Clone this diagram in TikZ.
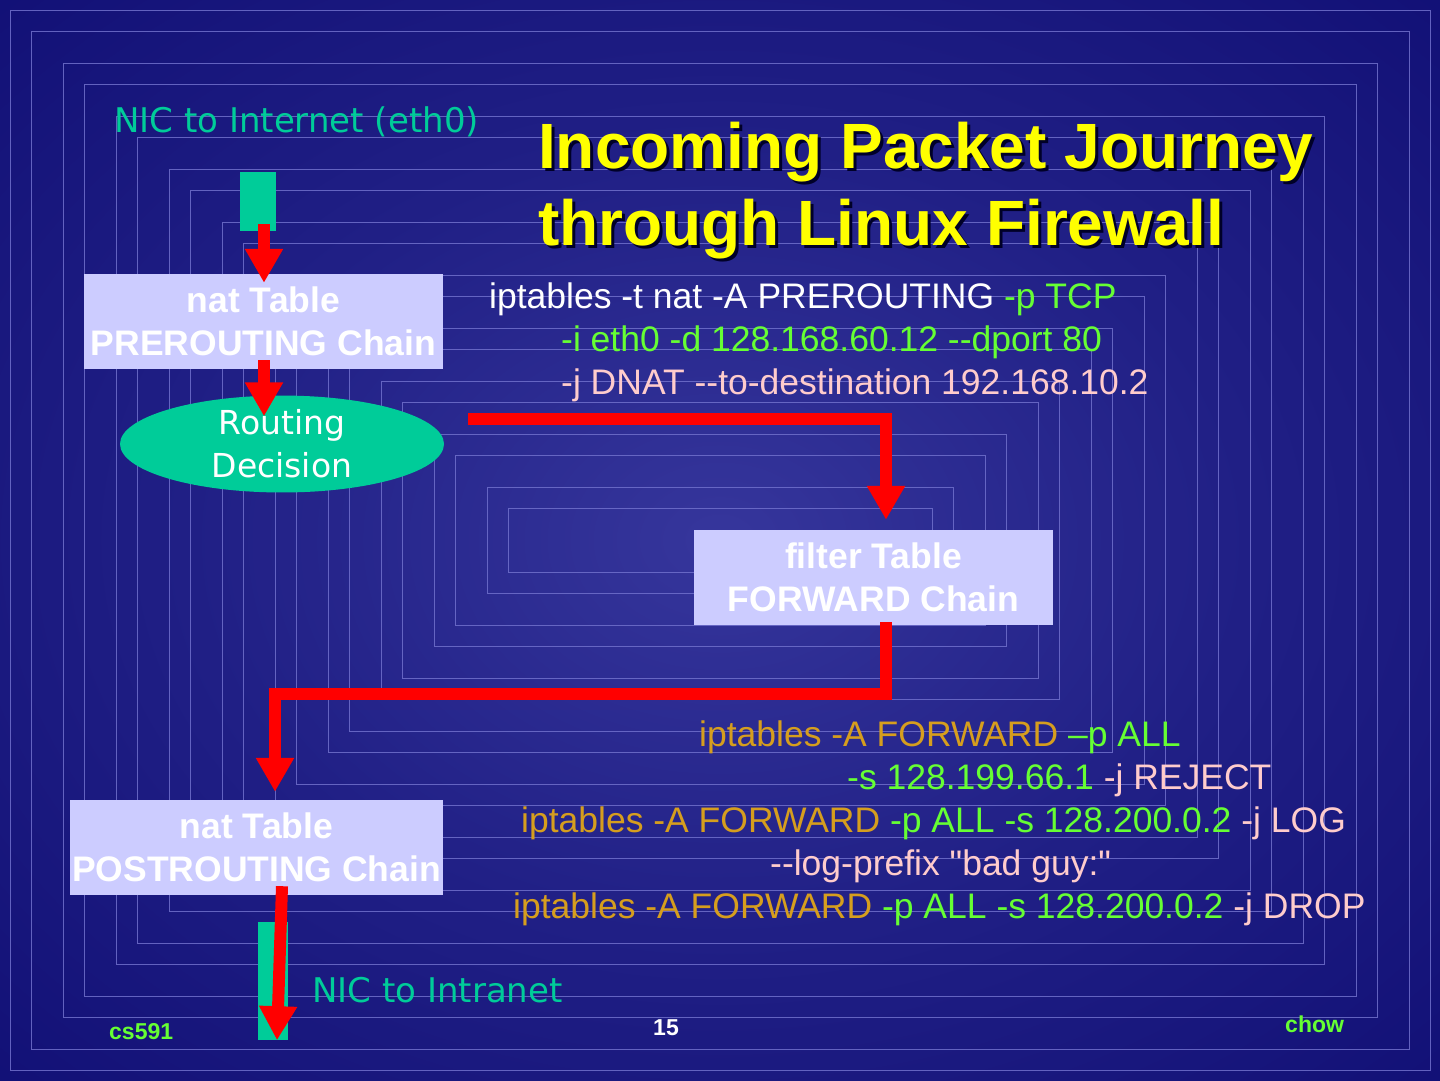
\documentclass[tikz,border=0pt]{standalone}
\usepackage{fontspec}
\setmainfont{Liberation Sans}[Ligatures=TeXOff]
\newfontfamily\nicfont{DejaVu Sans}
\usetikzlibrary{calc}
\usetikzlibrary{arrows.meta}
\usetikzlibrary{shapes.geometric}

\definecolor{bgout}{RGB}{6,4,106}
\definecolor{bgin}{RGB}{54,54,156}
\colorlet{bgmid}{bgin!55!bgout}
\definecolor{frameline}{RGB}{112,112,204}
\definecolor{nicteal}{RGB}{0,204,153}
\definecolor{boxlav}{RGB}{204,204,255}
\definecolor{arrowred}{RGB}{255,0,0}
\definecolor{cmdgreen}{RGB}{102,255,51}
\definecolor{cmdgold}{RGB}{214,158,30}
\definecolor{cmdpink}{RGB}{255,204,204}
\definecolor{titleyel}{RGB}{255,255,0}
\definecolor{titleshd}{RGB}{0,0,40}

\pgfdeclareradialshading{slidebg}{\pgfpoint{0bp}{0bp}}{color(0bp)=(bgin); color(18bp)=(bgmid); color(50bp)=(bgout); color(100bp)=(bgout)}

\begin{document}
\begin{tikzpicture}[x=1pt,y=-1pt,
    every node/.style={inner sep=0pt},
    cmd/.style={anchor=base west, font=\fontsize{35.5}{43}\selectfont},
    chainbox/.style={fill=boxlav, text=white, align=center, minimum height=95pt,
        font=\bfseries\fontsize{35.5}{43}\selectfont},
    decision/.style={ellipse, fill=nicteal, text=white, align=center,
        minimum width=324pt, minimum height=94pt, font=\nicfont\fontsize{33}{43}\selectfont},
    niclabel/.style={anchor=base west, text=nicteal, font=\nicfont\fontsize{34}{40}\selectfont},
    titleline/.style={anchor=base west, font=\bfseries\fontsize{64}{77}\selectfont},
    footer/.style={font=\bfseries\fontsize{23}{26}\selectfont},
    flowarrow/.style={draw=arrowred, line width=12pt, line join=miter,
        -{Triangle[width=36pt,length=34pt]}}]

    \useasboundingbox (0,0) rectangle (1440,1080);
    \shade[shading=slidebg] (0,0) rectangle (1440,1080);
    \foreach \d in {10,31,63,84,116,137,169,190,222,243,275,296,328,349,381,402,434,455,487,508}{
        \draw[frameline, line width=1pt, opacity=0.85] (\d,\d) rectangle (1440-\d,1080-\d);
    }

    \foreach \dx/\col in {3/titleshd,0/titleyel}{
        \node[titleline, text=\col] (title1-\col) at (538+\dx,168+\dx) {Incoming Packet Journey};
        \node[titleline, text=\col] (title2-\col) at (538+\dx,245+\dx) {through Linux Firewall};
    }

    \node[niclabel] (nicinlbl) at (114,132) {NIC to Internet (eth0)};
    \node[niclabel] (nicoutlbl) at (312,1002) {NIC to Intranet};

    \node[fill=nicteal, minimum width=36pt, minimum height=59pt] (nicin) at (258,201.5) {};
    \node[fill=nicteal, minimum width=30pt, minimum height=118pt] (nicout) at (273,981) {};

    \node[chainbox, minimum width=359pt] (nat1) at (263.5,321.5) {nat Table\\PREROUTING Chain};
    \node[decision] (route) at (282,444) {Routing\\Decision};
    \node[chainbox, minimum width=359pt] (fwd) at (873.5,577.5) {filter Table\\FORWARD Chain};
    \node[chainbox, minimum width=373pt] (nat2) at (256.5,847.5) {nat Table\\POSTROUTING Chain};

    \node[cmd] (prerule1) at (489,308) {{\color{white}iptables -t nat -A PREROUTING }{\color{cmdgreen}-p TCP}};
    \node[cmd, text=cmdgreen] (prerule2) at (561,351) {-i eth0 -d 128.168.60.12 --dport 80};
    \node[cmd, text=cmdpink] (prerule3) at (561,394) {-j DNAT --to-destination 192.168.10.2};

    \node[cmd] (fwdrule1) at (699,746) {{\color{cmdgold}iptables -A FORWARD }{\color{cmdgreen}–p ALL}};
    \node[cmd] (fwdrule2) at (847,789) {{\color{cmdgreen}-s 128.199.66.1 }{\color{cmdpink}-j REJECT}};
    \node[cmd] (fwdrule3) at (521,832) {{\color{cmdgold}iptables -A FORWARD }{\color{cmdgreen}-p ALL -s 128.200.0.2 }{\color{cmdpink}-j LOG}};
    \node[cmd, text=cmdpink] (fwdrule4) at (770,875) {--log-prefix "bad guy:"};
    \node[cmd] (fwdrule5) at (513,918) {{\color{cmdgold}iptables -A FORWARD }{\color{cmdgreen}-p ALL -s 128.200.0.2 }{\color{cmdpink}-j DROP}};

    \draw[flowarrow] ($(nicin.south)+(6,-7)$) -- ($(nat1.north)+(0.5,9)$);
    \draw[flowarrow] ($(nat1.south)+(0.5,-9)$) -- ($(nat1.south |- route.north)+(0.5,21)$);
    \draw[flowarrow] ($(route.east)+(24,-25)$) -| ($(fwd.north)+(12.5,-10)$);
    \draw[flowarrow] ($(fwd.south)+(12.5,-3)$) -- ++(0,72) -| ($(nat2.north)+(18.5,-8)$);
    \draw[flowarrow] ($(nat2.south)+(25.5,-9)$) -- ($(nicout.south)+(4,0)$);

    \node[footer, anchor=base west, text=cmdgreen] (course) at (109,1039) {cs591};
    \node[footer, anchor=base, text=white] (pageno) at (666,1035) {15};
    \node[footer, anchor=base west, text=cmdgreen] (author) at (1285,1032) {chow};
\end{tikzpicture}
\end{document}
